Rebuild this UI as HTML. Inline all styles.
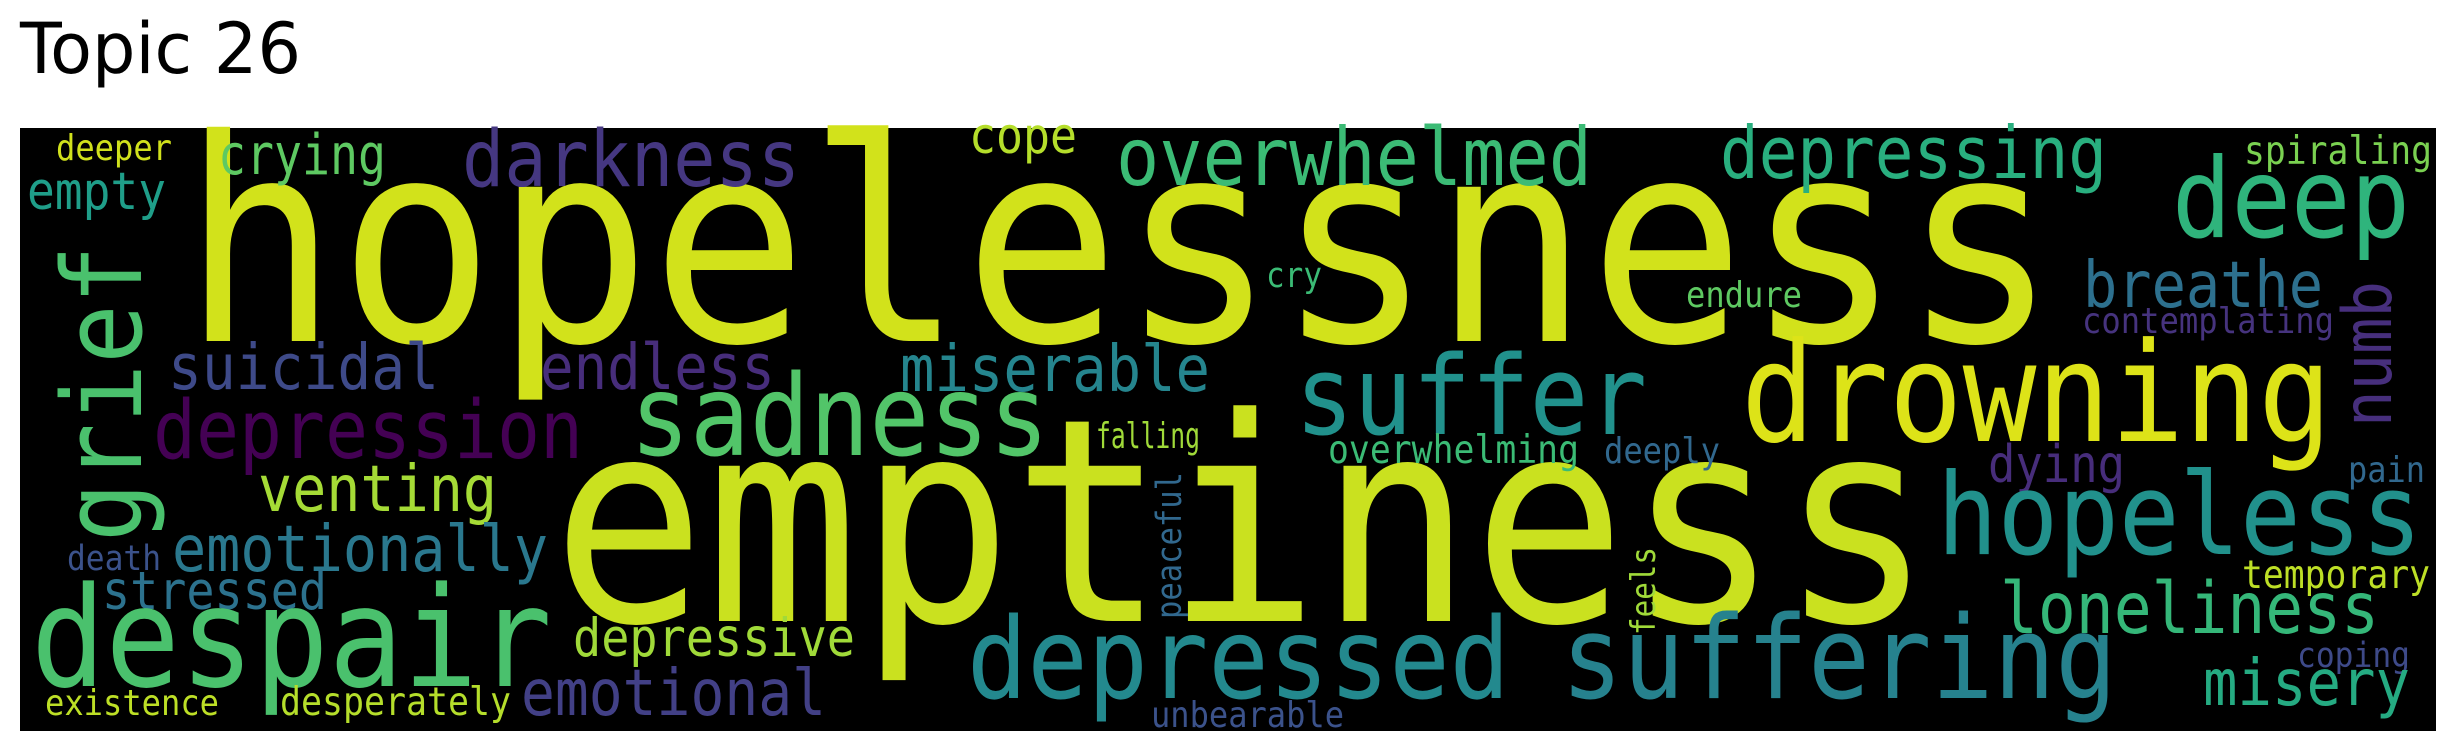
<!DOCTYPE html>
<html><head><meta charset="utf-8"><style>
html,body{margin:0;padding:0;background:#fff;width:2456px;height:752px;overflow:hidden}
svg text{font-family:"DejaVu Sans Mono","Liberation Mono",monospace}
</style></head><body>
<svg width="2456" height="752" viewBox="0 0 2456 752">
<text x="20" y="73" font-size="70" textLength="281" lengthAdjust="spacingAndGlyphs" style="font-family:'DejaVu Sans','Liberation Sans',sans-serif" fill="#000">Topic 26</text>
<rect x="20" y="128" width="2416" height="603" fill="#000"/>
<g>
<text x="182" y="341" font-size="282" textLength="1876" lengthAdjust="spacingAndGlyphs" fill="#d2e21b">hopelessness</text>
<text x="552" y="621" font-size="284" textLength="1381" lengthAdjust="spacingAndGlyphs" fill="#cae11f">emptiness</text>
<text x="56" y="160" font-size="36" textLength="116" lengthAdjust="spacingAndGlyphs" fill="#d0e11c">deeper</text>
<text x="218" y="174" font-size="56" textLength="168" lengthAdjust="spacingAndGlyphs" fill="#5ec962">crying</text>
<text x="462" y="186" font-size="78" textLength="338" lengthAdjust="spacingAndGlyphs" fill="#453781">darkness</text>
<text x="969" y="153" font-size="50" textLength="108" lengthAdjust="spacingAndGlyphs" fill="#b5de2b">cope</text>
<text x="1116" y="185" font-size="80" textLength="476" lengthAdjust="spacingAndGlyphs" fill="#3bbb75">overwhelmed</text>
<text x="27" y="209" font-size="52" textLength="139" lengthAdjust="spacingAndGlyphs" fill="#1f9e89">empty</text>
<text transform="translate(141,542) rotate(-90)" font-size="110" textLength="297" lengthAdjust="spacingAndGlyphs" fill="#4ac16d">grief</text>
<text x="168" y="389" font-size="63" textLength="271" lengthAdjust="spacingAndGlyphs" fill="#3e4a89">suicidal</text>
<text x="540" y="389" font-size="63" textLength="235" lengthAdjust="spacingAndGlyphs" fill="#472d7b">endless</text>
<text x="900" y="391" font-size="64" textLength="310" lengthAdjust="spacingAndGlyphs" fill="#25858e">miserable</text>
<text x="630" y="455" font-size="112" textLength="419" lengthAdjust="spacingAndGlyphs" fill="#52c569">sadness</text>
<text x="153" y="458" font-size="81" textLength="430" lengthAdjust="spacingAndGlyphs" fill="#440154">depression</text>
<text x="1096" y="448" font-size="36" textLength="104" lengthAdjust="spacingAndGlyphs" fill="#a0da39">falling</text>
<text x="258" y="511" font-size="64" textLength="239" lengthAdjust="spacingAndGlyphs" fill="#a5db36">venting</text>
<text transform="translate(1181,619) rotate(-90)" font-size="35" textLength="147" lengthAdjust="spacingAndGlyphs" fill="#31688e">peaceful</text>
<text x="67" y="570" font-size="35" textLength="94" lengthAdjust="spacingAndGlyphs" fill="#3b528b">death</text>
<text x="172" y="571" font-size="64" textLength="376" lengthAdjust="spacingAndGlyphs" fill="#2a788e">emotionally</text>
<text x="102" y="609" font-size="53" textLength="225" lengthAdjust="spacingAndGlyphs" fill="#2c728e">stressed</text>
<text x="31" y="686" font-size="139" textLength="521" lengthAdjust="spacingAndGlyphs" fill="#4ac16d">despair</text>
<text x="573" y="656" font-size="53" textLength="282" lengthAdjust="spacingAndGlyphs" fill="#a0da39">depressive</text>
<text x="45" y="715" font-size="36" textLength="174" lengthAdjust="spacingAndGlyphs" fill="#bddf26">existence</text>
<text x="280" y="715" font-size="39" textLength="231" lengthAdjust="spacingAndGlyphs" fill="#b5de2b">desperately</text>
<text x="521" y="715" font-size="64" textLength="305" lengthAdjust="spacingAndGlyphs" fill="#424086">emotional</text>
<text x="967" y="698" font-size="112" textLength="543" lengthAdjust="spacingAndGlyphs" fill="#23898e">depressed</text>
<text x="1151" y="727" font-size="36" textLength="193" lengthAdjust="spacingAndGlyphs" fill="#3b528b">unbearable</text>
<text x="1720" y="178" font-size="72" textLength="387" lengthAdjust="spacingAndGlyphs" fill="#29af7f">depressing</text>
<text x="2244" y="164" font-size="39" textLength="188" lengthAdjust="spacingAndGlyphs" fill="#7ad151">spiraling</text>
<text x="2172" y="237" font-size="111" textLength="238" lengthAdjust="spacingAndGlyphs" fill="#2fb47c">deep</text>
<text x="1266" y="287" font-size="35" textLength="56" lengthAdjust="spacingAndGlyphs" fill="#3bbb75">cry</text>
<text x="1686" y="307" font-size="36" textLength="116" lengthAdjust="spacingAndGlyphs" fill="#5ec962">endure</text>
<text x="2083" y="307" font-size="64" textLength="240" lengthAdjust="spacingAndGlyphs" fill="#2d708e">breathe</text>
<text x="2082" y="333" font-size="36" textLength="252" lengthAdjust="spacingAndGlyphs" fill="#46337e">contemplating</text>
<text transform="translate(2391,427) rotate(-90)" font-size="68" textLength="146" lengthAdjust="spacingAndGlyphs" fill="#472f7d">numb</text>
<text x="1295" y="434" font-size="110" textLength="352" lengthAdjust="spacingAndGlyphs" fill="#21918c">suffer</text>
<text x="1741" y="441" font-size="138" textLength="591" lengthAdjust="spacingAndGlyphs" fill="#dde318">drowning</text>
<text x="1328" y="463" font-size="39" textLength="251" lengthAdjust="spacingAndGlyphs" fill="#3bbb75">overwhelming</text>
<text x="1604" y="463" font-size="36" textLength="116" lengthAdjust="spacingAndGlyphs" fill="#31688e">deeply</text>
<text x="1988" y="482" font-size="52" textLength="137" lengthAdjust="spacingAndGlyphs" fill="#472d7b">dying</text>
<text x="2348" y="482" font-size="36" textLength="77" lengthAdjust="spacingAndGlyphs" fill="#31688e">pain</text>
<text x="1937" y="554" font-size="113" textLength="485" lengthAdjust="spacingAndGlyphs" fill="#21918c">hopeless</text>
<text transform="translate(1655,635) rotate(-90)" font-size="34" textLength="88" lengthAdjust="spacingAndGlyphs" fill="#a0da39">feels</text>
<text x="2242" y="588" font-size="39" textLength="188" lengthAdjust="spacingAndGlyphs" fill="#bddf26">temporary</text>
<text x="2000" y="633" font-size="71" textLength="379" lengthAdjust="spacingAndGlyphs" fill="#35b779">loneliness</text>
<text x="1561" y="698" font-size="115" textLength="556" lengthAdjust="spacingAndGlyphs" fill="#26828e">suffering</text>
<text x="2297" y="667" font-size="35" textLength="113" lengthAdjust="spacingAndGlyphs" fill="#3e4a89">coping</text>
<text x="2203" y="705" font-size="64" textLength="207" lengthAdjust="spacingAndGlyphs" fill="#25ab82">misery</text>
</g>
</svg>
</body></html>
